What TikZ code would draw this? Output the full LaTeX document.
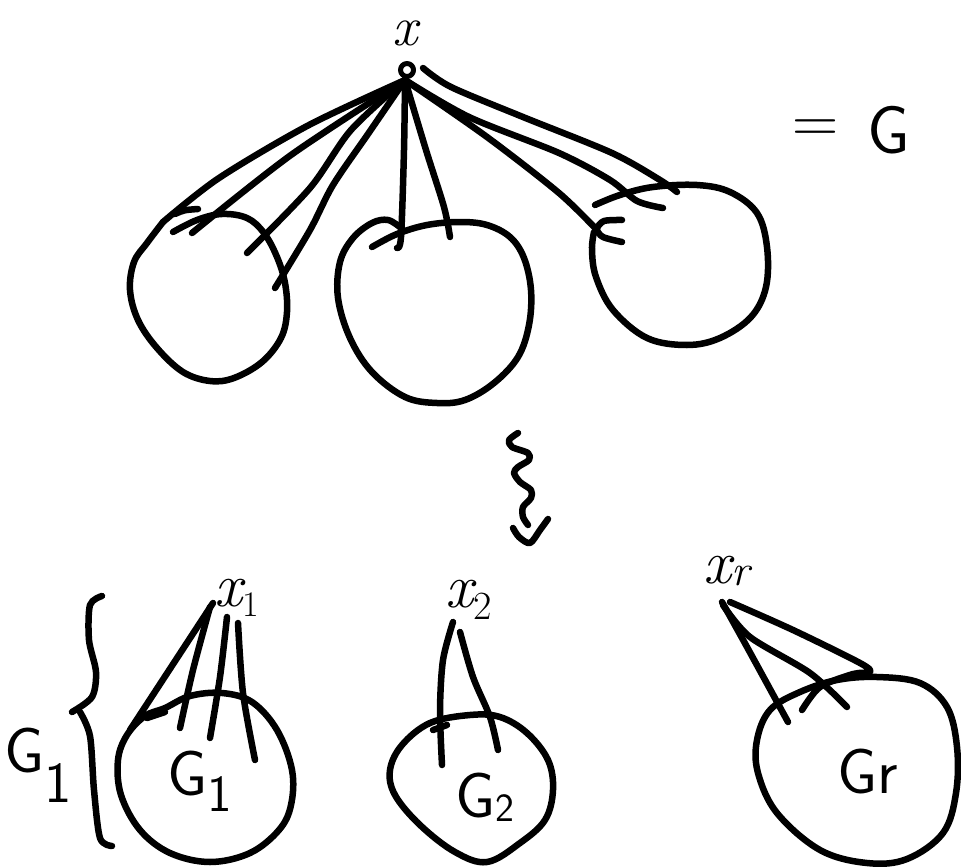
\documentclass[tikz,border=0pt]{standalone}
\usepackage{fontspec}
% a lowered index: optional size, drop below the baseline, text
\newcommand{\lowidx}[3][36pt]{\raisebox{-#2}{\fontsize{#1}{#1}\selectfont #3}}
\tikzset{
  ink/.style={line width=6.5pt, line cap=round, line join=round},
  thin ink/.style={ink, line width=5pt},
  lbl/.style={inner sep=0pt, outer sep=0pt},
  big/.style={lbl, font=\fontsize{62pt}{62pt}\selectfont},
  huge/.style={lbl, font=\fontsize{64pt}{64pt}\selectfont},
}
\begin{document}
\begin{tikzpicture}[x=1pt,y=-1pt]
\useasboundingbox (0,0) rectangle (961,867);

% ---------- the graph G ----------
\node[lbl, font=\fontsize{56pt}{56pt}\selectfont] (xlab) at (405,33) {\itshape x};
\coordinate (apex) at (405,80);
\draw[thin ink] (407,70) circle (6.5pt);

\node[huge] (eq) at (816,131) {=};
\node[lbl, font=\fontsize{68pt}{68pt}\selectfont] (G) at (889,130) {\sffamily G};

% left component
\draw[ink] plot[smooth, tension=0.6] coordinates {(173,232) (197,220) (222,214) (247,218) (264,233) (277,257) (285,283) (287,312) (281,338) (262,362) (234,378) (210,381) (183,372) (157,348) (138,320) (130,290) (134,262) (147,243) (163,222)};
\draw[ink] plot[smooth] coordinates {(apex) (309,125) (219,178) (163,222)};
\draw[ink] (175,214) .. controls (184,210) .. (198,209);
\draw[ink] plot[smooth] coordinates {(apex) (291,155) (192,233)};
\draw[ink] plot[smooth] coordinates {(apex) (351,130) (310,188) (247,253)};
\draw[ink] plot[smooth] coordinates {(apex) (368,134) (333,185) (310,230) (275,288)};

% middle component
\draw[ink] plot[smooth, tension=0.6] coordinates {(372,247) (397,234) (427,225) (460,222) (487,225) (510,237) (524,258) (531,290) (529,325) (518,357) (494,383) (465,400) (437,403) (405,397) (372,372) (350,338) (338,298) (340,262) (353,238) (372,223) (388,220) (401,228)};
\draw[ink] plot[smooth] coordinates {(apex) (404,150) (401,237) (397,248)};
\draw[ink] plot[smooth] coordinates {(apex) (426,150) (444,207) (450,237)};

% right component
\draw[ink] plot[smooth, tension=0.6] coordinates {(595,205) (620,195) (653,187) (697,185) (730,192) (757,213) (767,247) (766,287) (751,317) (720,338) (687,345) (647,338) (613,310) (596,277) (592,250) (594,232)};
\draw[ink] plot[smooth] coordinates {(423,68) (451,87) (523,117) (612,153) (660,180) (677,192)};
\draw[ink] plot[smooth] coordinates {(apex) (469,117) (559,153) (610,180) (637,201) (663,208)};
\draw[ink] plot[smooth] coordinates {(apex) (487,137) (559,193) (597,230)};
\draw[ink] plot[smooth] coordinates {(622,220) (604,221) (597,229) (603,237) (622,242)};

% ---------- squiggly arrow ----------
\draw[ink] plot[smooth] coordinates {(518,433) (509,440) (512,447) (528,453) (529,460) (518,467) (514,473) (520,482) (531,490) (531,498) (523,507) (523,517) (528,525)};
\draw[ink] plot[smooth] coordinates {(513,528) (519,537) (530,543) (540,530) (548,519)};

% ---------- the pieces G_1, G_2, ..., G_r ----------
% G_1 with its brace
\draw[ink] plot[smooth] coordinates {(102,596) (90,605) (89,640) (96,672) (92,697) (72,712)};
\draw[ink] plot[smooth] coordinates {(80,712) (90,736) (94,790) (100,838) (112,846)};
\node[huge] (G1out) at (38,765) {\sffamily G\lowidx[58pt]{30pt}{1}};

\node[big] (x1) at (237,598) {\itshape x\lowidx{10pt}{\upshape 1}};
\draw[ink] plot[smooth cycle, tension=0.6] coordinates {(165,708) (190,696) (222,693) (252,702) (277,730) (292,770) (291,805) (279,830) (250,853) (210,862) (170,853) (140,830) (121,795) (118,760) (127,735) (145,716)};
\node[huge] (G1) at (200,781) {\sffamily G\lowidx[52pt]{16pt}{1}};
\draw[ink] (213,603) -- (130,730);
\draw[ink] plot[smooth] coordinates {(210,607) (193,670) (180,728)};
\draw[ink] plot[smooth] coordinates {(227,617) (220,677) (210,738)};
\draw[ink] plot[smooth] coordinates {(238,623) (243,693) (255,760)};
\draw[ink] (147,718) -- (165,712);

% G_2
\node[big] (x2) at (469,600) {\itshape x\lowidx[40pt]{12pt}{\upshape 2}};
\draw[ink] plot[smooth cycle, tension=0.6] coordinates {(430,723) (470,715) (500,717) (527,733) (548,760) (553,790) (545,820) (520,843) (487,862) (455,852) (420,825) (395,795) (390,770) (402,745)};
\node[huge] (G2) at (485,797) {\sffamily G\lowidx[40pt]{4pt}{2}};
\draw[ink] plot[smooth] coordinates {(453,622) (443,660) (440,710) (442,765)};
\draw[ink] plot[smooth] coordinates {(460,632) (473,677) (490,717) (498,750)};
\draw[ink] (433,730) -- (447,725);

% G_r
\node[big] (xr) at (727,571) {\itshape x\lowidx[44pt]{2pt}{r}};
\draw[ink] plot[smooth cycle, tension=0.6] coordinates {(770,710) (800,692) (837,680) (877,677) (920,683) (947,707) (957,747) (956,793) (943,833) (907,859) (867,863) (820,850) (777,813) (758,773) (757,740)};
\node[huge] (Gr) at (868,772) {\sffamily Gr};
\draw[ink] plot[smooth] coordinates {(722,602) (747,647) (788,722)};
\draw[ink] plot[smooth] coordinates {(723,605) (750,637) (810,673) (847,707)};
\draw[ink] plot[smooth, tension=0.5] coordinates {(730,602) (793,630) (860,663) (870,672) (853,674) (820,687) (802,710)};
\end{tikzpicture}
\end{document}
